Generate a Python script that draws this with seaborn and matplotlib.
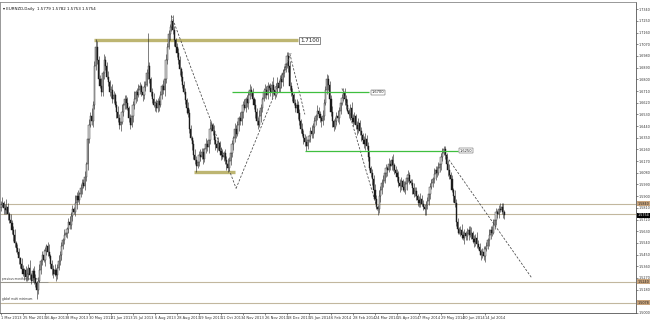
import numpy as np
import pandas as pd
import matplotlib
matplotlib.use("Agg")
import matplotlib.pyplot as plt
import matplotlib.transforms as mtransforms
import seaborn as sns

# ---------------- data ----------------
title_text = "\u25be EURNZD,Daily  1.5779 1.5782 1.5753 1.5754"
base_price = 1.5000
pip = 0.0001
first_open_pips = 815

# daily closes, pips above 1.5000 (1 Mar 2013 ... late Jul 2014)
close_pips = [
    830, 845, 810, 790, 820, 760, 720, 690, 640, 600,
    540, 500, 470, 420, 380, 340, 300, 330, 280, 300,
    350, 290, 250, 320, 270, 230, 180, 250,
    330, 400, 450, 410, 480, 520, 470, 440,
    380, 340, 300, 330, 290, 350,
    400, 450, 520, 560, 600, 620,
    650, 700, 680, 750, 800, 780, 850, 900, 870, 920,
    960, 1000, 980, 1050, 1150,
    1340, 1450, 1520, 1480, 1600,
    1900, 2050, 1950,
    1800, 1750, 1700,
    1850, 1950, 1900, 1820,
    1780, 1700, 1720, 1650, 1680,
    1600, 1550, 1500, 1450, 1470,
    1550, 1600, 1650, 1620, 1580,
    1500, 1450, 1520,
    1600, 1650, 1700, 1680, 1720,
    1750, 1700, 1680, 1740, 1760,
    1850, 1900, 1800,
    1700, 1650, 1600, 1620,
    1580, 1630, 1600, 1680,
    1750, 1720, 1800,
    1950, 2050, 2150,
    2200, 2250, 2180,
    2100, 2050, 2000,
    1950, 1880, 1820, 1760,
    1700, 1640, 1580, 1540,
    1420, 1350, 1300, 1220,
    1180, 1130, 1160,
    1220, 1200, 1240, 1190,
    1260, 1300, 1280, 1330,
    1420, 1450, 1400,
    1330, 1300, 1270, 1310,
    1250, 1220, 1200, 1230,
    1180, 1150, 1120, 1170,
    1230, 1300, 1350, 1420,
    1380, 1450, 1500, 1480,
    1550, 1600, 1580, 1650, 1620,
    1680, 1720, 1700, 1650,
    1600, 1550, 1480, 1450, 1520, 1580,
    1650, 1700, 1720, 1680, 1750,
    1730, 1700, 1760, 1720, 1680, 1740, 1770, 1730,
    1800, 1780, 1850, 1870,
    1920, 1980, 1900,
    1750, 1700, 1680,
    1620, 1580, 1600, 1540,
    1480, 1420, 1380, 1350,
    1320, 1290, 1330,
    1360, 1400, 1380, 1430,
    1480, 1520, 1560, 1530,
    1500, 1480, 1520,
    1620, 1720, 1800, 1760,
    1650, 1550, 1480, 1430,
    1480, 1520, 1500, 1560,
    1620, 1660, 1700, 1650,
    1600, 1560, 1530, 1580,
    1500, 1470, 1520, 1450,
    1420, 1460, 1400, 1370,
    1330, 1300, 1340, 1290,
    1200, 1120, 1080, 1030,
    950, 880, 820, 800,
    900, 950, 1000, 1020,
    1080, 1120, 1100, 1150, 1130,
    1180, 1140, 1100, 1080,
    1050, 1000, 980, 1020,
    970, 950, 990,
    1040, 1060, 1020, 1000,
    960, 920, 940, 900,
    870, 850, 880, 840,
    820, 800, 830, 860,
    920, 970, 1000, 1030,
    1070, 1100, 1080, 1120, 1150,
    1200, 1230, 1260, 1220,
    1150, 1100, 1060, 1030,
    950, 900, 850,
    700, 650, 620, 640,
    600, 580, 620, 590,
    610, 640, 600, 620,
    570, 550, 580, 530,
    510, 480, 450, 470,
    440, 490, 520, 560,
    600, 640, 620, 680,
    720, 780, 760, 800,
    790, 820, 779, 754,
]
# wicks beyond the body, in units of 15 pips
upper_wick_15 = [
    2,3,1,2,4,2,1,3,2,2, 3,1,2,2,1,3,2,1,2,3, 2,4,1,2,3,2,1,2,3,1, 2,3,2,1,2,4,1,2,2,3,
    1,2,3,2,2,1,3,2,1,2, 3,2,2,1,4,2,3,1,2,2, 2,3,1,2,3,2,4,2,3,4, 3,2,2,4,1,3,2,2,3,1,
    2,3,2,1,2,3,2,2,4,1, 2,2,3,1,2,3,2,4,1,2, 3,2,1,2,3,2,2,17,2,1, 2,3,1,2,2,3,2,1,3,2,
    3,2,2,2,3,3,2,1,2,3, 2,1,3,2,2,1,3,2,2,1, 2,3,2,1,2,3,2,2,1,3, 2,2,4,2,1,3,2,2,3,1,
    2,3,1,2,2,3,2,4,2,1, 3,2,2,1,3,2,2,3,1,2, 2,3,2,2,1,3,2,2,3,2, 1,2,3,2,2,1,3,2,4,2,
    2,3,1,2,3,2,2,3,2,2, 3,2,2,1,2,3,2,2,1,3, 2,2,3,2,1,2,3,2,2,1, 3,2,2,1,3,2,2,3,2,2,
    2,3,1,2,2,3,2,1,2,2, 2,2,3,1,2,3,2,2,1,2, 3,2,2,1,2,3,2,2,3,1, 2,2,3,2,1,3,2,2,3,2,
    2,1,3,2,2,3,1,2,2,3, 2,2,1,3,2,2,3,2,1,2, 3,2,2,1,2,3,2,2,1,2, 2,3,2,2,1,3,2,2,3,2,
    2,3,2,2,1,2,3,2,2,1, 3,2,2,1,2,3,2,2,1,3, 2,2,3,1,2,2,3,2,2,1, 2,3,2,2,1,3,2,2,3,2,
    2,1,2,3,2,2,1,2,
]
lower_wick_15 = [
    2,1,3,2,2,3,2,1,2,3, 2,2,1,3,2,2,1,3,2,2, 3,2,2,1,3,2,5,2,1,2, 2,1,3,2,2,1,2,3,2,1,
    3,2,1,2,3,2,2,1,3,2, 2,2,3,1,2,3,1,2,2,3, 1,2,2,3,2,1,2,3,2,2, 2,3,1,2,2,3,2,1,2,2,
    3,2,2,1,3,2,2,3,1,2, 2,3,1,2,2,1,3,2,2,3, 1,2,2,3,2,2,1,3,2,2, 2,1,3,2,2,3,1,2,2,3,
    2,2,1,3,2,2,3,1,2,2, 3,2,2,1,2,3,2,2,1,3, 2,2,3,1,2,2,1,3,2,2, 2,3,2,1,2,2,3,2,1,2,
    3,1,2,2,3,2,1,2,2,3, 2,2,1,3,2,2,3,1,2,2, 3,2,2,1,2,3,2,2,1,3, 2,1,3,2,2,1,2,3,2,2,
    1,3,2,2,3,2,2,1,2,3, 2,2,3,1,2,2,3,2,2,1, 3,2,3,2,1,3,2,2,3,2, 2,1,2,3,2,2,1,2,3,2,
    2,3,2,1,2,2,3,2,1,2, 3,2,1,2,3,2,2,1,2,3, 2,2,3,1,2,3,2,2,1,2, 3,2,2,1,3,2,3,2,2,1,
    2,3,1,2,2,3,2,1,2,2, 3,2,2,1,2,3,2,2,1,3, 2,1,2,3,2,2,1,2,3,3, 2,2,3,1,2,2,3,2,1,2,
    3,2,1,2,2,3,2,2,1,3, 2,2,3,1,2,2,1,3,2,2, 3,1,2,2,3,2,2,1,2,3, 2,2,3,1,2,3,2,2,1,2,
    3,2,2,1,2,3,2,2,
]

date_labels = ["1 Mar 2013", "25 Mar 2013", "16 Apr 2013", "8 May 2013", "30 May 2013",
               "21 Jun 2013", "15 Jul 2013", "6 Aug 2013", "28 Aug 2013", "19 Sep 2013",
               "11 Oct 2013", "4 Nov 2013", "26 Nov 2013", "18 Dec 2013", "15 Jan 2014",
               "6 Feb 2014", "28 Feb 2014", "24 Mar 2014", "15 Apr 2014", "7 May 2014",
               "29 May 2014", "20 Jun 2014", "14 Jul 2014"]
bars_per_label = 16

price_ticks = [1.5000, 1.5090, 1.5180, 1.5270, 1.5360, 1.5450, 1.5540, 1.5630, 1.5720,
               1.5810, 1.5900, 1.5990, 1.6080, 1.6170, 1.6260, 1.6350, 1.6440, 1.6530,
               1.6620, 1.6710, 1.6800, 1.6890, 1.6980, 1.7070, 1.7160, 1.7250, 1.7340]

full_levels = [1.5840, 1.5765, 1.5235, 1.5078]
tan_boxes = [1.5840, 1.5240, 1.5078]
last_price = 1.5754

# drawn analysis objects: (start bar, end bar, price, label)
olive_levels = [(68, 216, 1.7100, "1.7100"), (140.5, 170, 1.6088, None)]
green_levels = [(168, 268, 1.6700, "1.6700"), (221, 332, 1.6250, "1.6250")]
trend_segments = [
    [(124, 1.7290), (171, 1.5960)],
    [(171, 1.5960), (211, 1.7000)],
    [(210, 1.7000), (221, 1.6530)],
    [(248, 1.6730), (274, 1.5790)],
    [(322.5, 1.6230), (386, 1.5270)],
]

# ---------------- figure ----------------
sns.set_style("white")
plt.rcParams["font.family"] = ["DejaVu Sans"]

W, H = 650, 323
fig = plt.figure(figsize=(W / 100, H / 100), dpi=100)
ax = fig.add_axes([0.0, 10 / H, 636 / W, 311 / H])

n = len(close_pips)
closes = np.array([base_price + c * pip for c in close_pips])
opens = np.concatenate([[base_price + first_open_pips * pip], closes[:-1]])
upper = np.array(upper_wick_15[:n]) * 15 * pip
lower = np.array(lower_wick_15[:n]) * 15 * pip
highs = np.maximum(opens, closes) + upper
lows = np.minimum(opens, closes) - lower
idx = np.arange(n)
df = pd.DataFrame({"bar": idx, "open": opens, "high": highs, "low": lows, "close": closes})

bull = df["close"] >= df["open"]
ax.vlines(df["bar"], df["low"], df["high"], color="#1e1e1e", lw=0.4, zorder=3)
body_bottom = np.minimum(df["open"], df["close"])
body_h = np.maximum(np.abs(df["close"] - df["open"]), 0.0004)
ax.bar(df["bar"][bull], body_h[bull], bottom=body_bottom[bull], width=0.8,
       color="#d8d8d8", edgecolor="#222222", linewidth=0.3, zorder=4)
ax.bar(df["bar"][~bull], body_h[~bull], bottom=body_bottom[~bull], width=0.8,
       color="#1a1a1a", edgecolor="#1a1a1a", linewidth=0.3, zorder=4)

# horizontal full-width levels
for lv in full_levels:
    ax.axhline(lv, color="#c2b79e", lw=0.8, zorder=2)

# olive and green levels
for x0, x1, p, lab in olive_levels:
    ax.hlines(p, x0, x1, color="#bdb571", lw=2.4, zorder=2)
    if lab:
        ax.text(x1 + 1.5, p, lab, fontsize=4.0, va="center", ha="left", color="#222222",
                bbox=dict(boxstyle="square,pad=0.15", fc="white", ec="#333333", lw=0.4), zorder=6)
for x0, x1, p, lab in green_levels:
    ax.hlines(p, x0, x1, color="#3fbf3f", lw=0.9, zorder=6)
    ax.text(x1 + 1.5, p, lab, fontsize=2.6, va="center", ha="left", color="#222222",
            bbox=dict(boxstyle="square,pad=0.15", fc="white", ec="#333333", lw=0.3), zorder=6)

# dashed trend lines
for seg in trend_segments:
    seg_df = pd.DataFrame(seg, columns=["bar", "price"])
    sns.lineplot(data=seg_df, x="bar", y="price", ax=ax, color="#444444",
                 lw=0.55, linestyle=(0, (3, 2)), sort=False, zorder=5)

# small notes bottom-left
ax.hlines(1.5240, -1, 34, color="#888888", lw=0.5, zorder=2)
ax.text(0.5, 1.5250, "previous month minimum", fontsize=2.0, color="#333333", va="bottom", ha="left")
ax.text(0.5, 1.5090, "global multi minimum", fontsize=2.0, color="#333333", va="bottom", ha="left")

# title
ax.text(0.004, 0.985, title_text, transform=ax.transAxes, fontsize=2.9, va="top", ha="left",
        color="#111111")

ax.set_xlim(-0.7, 461.8)
ax.set_ylim(1.5000, 1.7396)

# axes styling
ax.yaxis.tick_right()
ax.set_yticks(price_ticks)
ax.set_yticklabels([f"{v:.4f}" for v in price_ticks])
label_bars = [k * bars_per_label for k in range(len(date_labels))]
ax.set_xticks(label_bars)
ax.set_xticklabels(date_labels, ha="left")
ax.tick_params(axis="y", labelsize=2.4, length=1.2, width=0.4, pad=0.6, colors="#333333", right=True)
ax.tick_params(axis="x", labelsize=2.6, length=1.5, width=0.4, pad=1.0, colors="#333333", bottom=True)
ax.set_xlabel("")
ax.set_ylabel("")
for s in ["left", "top", "right", "bottom"]:
    ax.spines[s].set_visible(True)
    ax.spines[s].set_linewidth(0.6)
    ax.spines[s].set_color("#888888")
ax.spines["right"].set_color("#555555")
ax.spines["bottom"].set_color("#555555")

# right-axis price boxes
tr = mtransforms.blended_transform_factory(ax.transAxes, ax.transData)
for p in tan_boxes:
    ax.text(1.003, p, f"{p:.4f}", transform=tr, fontsize=2.4, va="center", ha="left",
            color="#222222", clip_on=False,
            bbox=dict(boxstyle="square,pad=0.15", fc="#c9a47c", ec="none"), zorder=7)
ax.text(1.003, last_price, f"{last_price:.4f}", transform=tr, fontsize=2.4, va="center",
        ha="left", color="white", clip_on=False,
        bbox=dict(boxstyle="square,pad=0.15", fc="black", ec="none"), zorder=7)

fig.savefig("out.png", dpi=100)
